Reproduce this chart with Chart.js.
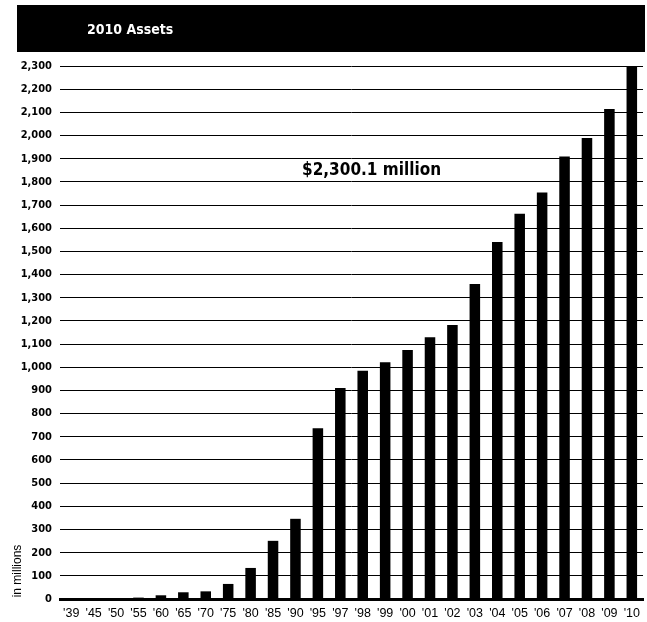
<!DOCTYPE html>
<html>
<head>
<meta charset="utf-8">
<script src="https://cdn.jsdelivr.net/npm/chart.js@4"></script>
<style>
  body { margin: 0; background: #fff; }
  canvas { display: block; }
</style>
</head>
<body>
<canvas id="assetsChart" width="647" height="622"></canvas>
<script>
const years = ["'39", "'45", "'50", "'55", "'60", "'65", "'70", "'75", "'80", "'85", "'90", "'95",
  "'97", "'98", "'99", "'00", "'01", "'02", "'03", "'04", "'05", "'06", "'07", "'08", "'09", "'10"];
// total assets, $ millions
const assets = [2, 3, 4, 6, 16, 29, 33, 65, 134, 251, 346, 737,
  910, 985, 1022, 1075, 1129, 1182, 1359, 1541, 1662, 1754, 1909, 1989, 2114, 2300.1];
const chartTitle = '2010 Assets';
const calloutText = '$' + assets[assets.length - 1].toLocaleString('en-US') + ' million';
const unitsLabel = 'in millions';

const boldFont = '"DejaVu Sans Condensed", "DejaVu Sans", sans-serif';
const narrowFont = '"Liberation Sans Narrow", "Liberation Sans", sans-serif';

// header bar, callout and unit label
const decorations = {
  id: 'decorations',
  beforeDraw(chart) {
    const ctx = chart.ctx;
    ctx.save();
    ctx.fillStyle = '#000';
    ctx.fillRect(17, 5, 628, 47);
    ctx.fillStyle = '#fff';
    ctx.font = 'bold 14px ' + boldFont;
    ctx.textBaseline = 'middle';
    ctx.fillText(chartTitle, 87, 30);
    ctx.restore();
  },
  afterDraw(chart) {
    const ctx = chart.ctx;
    const y = chart.scales.y;
    ctx.save();
    ctx.fillStyle = '#000';
    ctx.font = 'bold 17px ' + boldFont;
    ctx.textBaseline = 'middle';
    ctx.fillText(calloutText, 302, y.getPixelForValue(1850));

    ctx.font = '12px ' + narrowFont;
    ctx.translate(18, 571);
    ctx.rotate(-Math.PI / 2);
    ctx.textAlign = 'center';
    ctx.fillText(unitsLabel, 0, 0);
    ctx.restore();
  }
};

new Chart(document.getElementById('assetsChart'), {
  type: 'bar',
  data: {
    labels: years,
    datasets: [{
      data: assets,
      backgroundColor: '#000',
      borderWidth: 0,
      barPercentage: 0.47,
      categoryPercentage: 1
    }]
  },
  options: {
    responsive: false,
    animation: false,
    layout: { padding: { top: 66, right: 2, left: 0, bottom: 0 } },
    plugins: {
      legend: { display: false },
      tooltip: { enabled: false }
    },
    scales: {
      x: {
        grid: { display: false, drawTicks: false },
        border: { display: true, color: '#000', width: 3 },
        ticks: {
          color: '#000',
          padding: 7,
          maxRotation: 0,
          autoSkip: false,
          font: { family: narrowFont, size: 12.5 }
        },
        afterFit: s => { s.height = 23; }
      },
      y: {
        min: 0,
        max: 2300,
        grid: { color: '#000', lineWidth: 1, drawTicks: false },
        border: { display: false },
        ticks: {
          stepSize: 100,
          color: '#000',
          padding: 8,
          font: { family: boldFont, size: 11, weight: 'bold' },
          callback: v => v.toLocaleString('en-US')
        },
        afterFit: s => { s.width = 60; }
      }
    }
  },
  plugins: [decorations]
});
</script>
</body>
</html>
